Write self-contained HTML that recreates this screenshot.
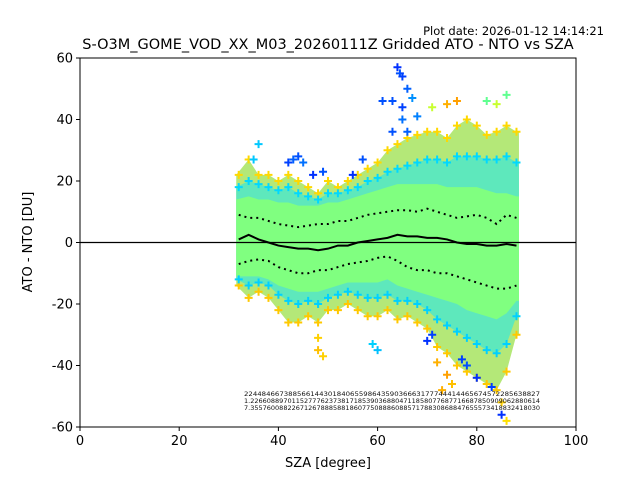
<!DOCTYPE html>
<html><head><meta charset="utf-8"><style>
body{margin:0;background:#fff;}
svg text{font-family:"DejaVu Sans","Liberation Sans",sans-serif;}
</style></head><body>
<svg id="chart" width="640" height="480" viewBox="0 0 640 480" xmlns="http://www.w3.org/2000/svg">
<rect width="640" height="480" fill="#fff"/>
<text x="604" y="35" font-size="11.5" text-anchor="end">Plot date: 2026-01-12 14:14:21</text>
<text x="328" y="49" font-size="14.5" text-anchor="middle">S-O3M_GOME_VOD_XX_M03_20260111Z Gridded ATO - NTO vs SZA</text>
<g id="plot"></g>
<text x="328" y="467" font-size="13" text-anchor="middle">SZA [degree]</text>
<text transform="translate(32,242) rotate(-90)" font-size="13" text-anchor="middle">ATO - NTO [DU]</text>
</svg>
<script>
const sza=[32,34,36,38,40,42,44,46,48,50,52,54,56,58,60,62,64,66,68,70,72,74,76,78,80,82,84,86,88];
const outerMax=[22,27,22,22,20,22,20,18,16,20,18,20,22,24,26,30,32,34,35,36,36,34,38,40,38,35,36,38,36];
const outerMin=[-14,-18,-16,-18,-22,-26,-26,-24,-26,-22,-22,-20,-22,-24,-24,-22,-25,-24,-26,-28,-34,-36,-40,-42,-44,-46,-48,-42,-30];
const midMax=[18,20,19,18,17,18,16,15,14,16,16,17,18,20,21,23,24,25,26,27,27,26,28,28,28,27,27,28,26];
const midMin=[-12,-14,-13,-14,-17,-19,-20,-19,-20,-18,-17,-16,-17,-18,-18,-17,-19,-19,-20,-22,-25,-27,-29,-31,-33,-35,-36,-33,-24];
const coreMax=[14,15,14,14,13,13,12,12,12,13,13,14,15,16,17,18,19,19,19,19,19,18,18,18,18,17,16,16,15];
const coreMin=[-11,-11,-11,-12,-14,-15,-16,-16,-16,-15,-14,-13,-13,-13,-13,-12,-14,-15,-16,-17,-18,-19,-20,-22,-23,-24,-25,-23,-19];
const meanVals=[1,2.5,1,0,-1,-1.5,-2,-2,-2.5,-2,-1,-1,0,0.5,1,1.5,2.5,2,2,1.5,1.5,1,0,-0.5,-0.5,-1,-1,-0.5,-1];
const stdUpper=[9,8,8,7,6,5.5,5,5.5,6,6,7,7,8,9,9.5,10,10.5,10.5,10,11,10,9,8,8.5,9,8,6,9,8];
const stdLower=[-7,-6,-5.5,-6,-8,-9,-10,-10,-9,-9,-8,-7,-6.5,-6,-5,-4.5,-6,-8,-9,-9,-10,-10,-11,-12,-13,-14,-15,-15,-14];
const outSza=[64,64.5,65,66,67,63,65,61,65,63,68,66,42,43,44,45,47,49,57,55,74,76,71,84,86,82,48,48,49,59,60,70,71,77,78,72,74,75,73,80,83,85,85,86,36,35];
const outVal=[57,55,54,50,47,46,44,46,40,36,41,36,26,27,28,26,22,23,27,22,45,46,44,45,48,46,-31,-35,-37,-33,-35,-32,-30,-38,-40,-39,-43,-46,-48,-44,-47,-52,-56,-58,32,27];
const outCol=["#0030ff","#0050ff","#0040ff","#0060ff","#0090ff","#0050ff","#0040ff","#0050ff","#0070ff","#0050ff","#0080ff","#0060ff","#0040ff","#0060ff","#0050ff","#0070ff","#0030ff","#0050ff","#0050ff","#0030ff","#ffb000","#ffa000","#c8ff30","#c8ff30","#60ff90","#60ff90","#ffd000","#ffc000","#ffd000","#00d0ff","#00c0ff","#0030ff","#0040ff","#0040ff","#0050ff","#ffb000","#ffa000","#ffc000","#ffb000","#0030ff","#0040ff","#ffd000","#0030ff","#ffe000","#00c8ff","#00c8ff"];
const xTicks=[0,20,40,60,80,100];
const yTicks=[-60,-40,-20,0,20,40,60];
const countRows=["2244846673885661443018406559864359036663177744414465674572285638827","1.2266088970115277762373817185390368804711858077687716687850909062880614","7.3557600882267126788858818607750888608857178830868847655573418832418030"];

const X0=80,X1=576,Y0=58,Y1=427;
const xs=v=>X0+(v-0)/(100-0)*(X1-X0);
const ys=v=>Y1-(v-(-60))/120*(Y1-Y0);
const NS="http://www.w3.org/2000/svg";
const g=document.getElementById('plot');
function mk(t,a){const e=document.createElementNS(NS,t);for(const k in a)e.setAttribute(k,a[k]);g.appendChild(e);return e;}
function band(top,bot,fill,name){
  let p=[];
  sza.forEach((s,i)=>p.push(xs(s-(i==0?0.5:0))+','+ys(top[i])));
  p.push(xs(sza[sza.length-1]+0.5)+','+ys(top[top.length-1]));
  p.push(xs(sza[sza.length-1]+0.5)+','+ys(bot[bot.length-1]));
  for(let i=sza.length-1;i>=0;i--)p.push(xs(sza[i]-(i==0?0.5:0))+','+ys(bot[i]));
  const e=mk('polygon',{points:p.join(' '),fill:fill});
  
  
}
band(outerMax,outerMin,'#b4e878','outer-scatter-band');
band(midMax,midMin,'#5ee8bc','mid-scatter-band');
band(coreMax,coreMin,'#80ff80','core-scatter-band');
sza.forEach((s,i)=>{
  [[outerMax[i],'#ffd800'],[outerMin[i],'#ffc800'],[midMax[i],'#00d8ff'],[midMin[i],'#00d0ff']].forEach(([v,c])=>{
    const x=xs(s),y=ys(v);
    const e=mk('path',{d:`M${x-4},${y}H${x+4}M${x},${y-4}V${y+4}`,stroke:c,'stroke-width':2});
    
    
  });
});
outSza.forEach((s,i)=>{
  const x=xs(s),y=ys(outVal[i]);
  const e=mk('path',{d:`M${x-4},${y}H${x+4}M${x},${y-4}V${y+4}`,stroke:outCol[i],'stroke-width':2});
  
  
});
const z=mk('line',{x1:X0,x2:X1,y1:ys(0),y2:ys(0),stroke:'#000','stroke-width':1.2});


function line(vals,name,dash,w){
  const e=mk('polyline',{points:sza.map((s,i)=>xs(s)+','+ys(vals[i])).join(' '),fill:'none',stroke:'#000','stroke-width':w});
  if(dash)e.setAttribute('stroke-dasharray',dash);
  
  
}
line(meanVals,'mean-line',null,2);
line(stdUpper,'std-upper-line','2 4',2);
line(stdLower,'std-lower-line','2 4',2);
countRows.forEach((r,i)=>{
  const t=mk('text',{x:244,y:396+i*7,'font-size':6.5,textLength:296,lengthAdjust:'spacingAndGlyphs',fill:'#111'});
  t.textContent=r;
  
  
});
const f=mk('rect',{x:X0,y:Y0,width:X1-X0,height:Y1-Y0,fill:'none',stroke:'#000','stroke-width':1});


xTicks.forEach(v=>{
  const x=xs(v);
  const l=mk('line',{x1:x,x2:x,y1:Y1,y2:Y1+4,stroke:'#000'});
  
  
  const t=mk('text',{x:x,y:Y1+18,'font-size':13,'text-anchor':'middle'});
  t.textContent=v;
  
  
});
yTicks.forEach(v=>{
  const y=ys(v);
  const l=mk('line',{x1:X0-4,x2:X0,y1:y,y2:y,stroke:'#000'});
  
  
  const t=mk('text',{x:X0-7,y:y+4.5,'font-size':13,'text-anchor':'end'});
  t.textContent=v;
  
  
});
</script>
</body></html>
